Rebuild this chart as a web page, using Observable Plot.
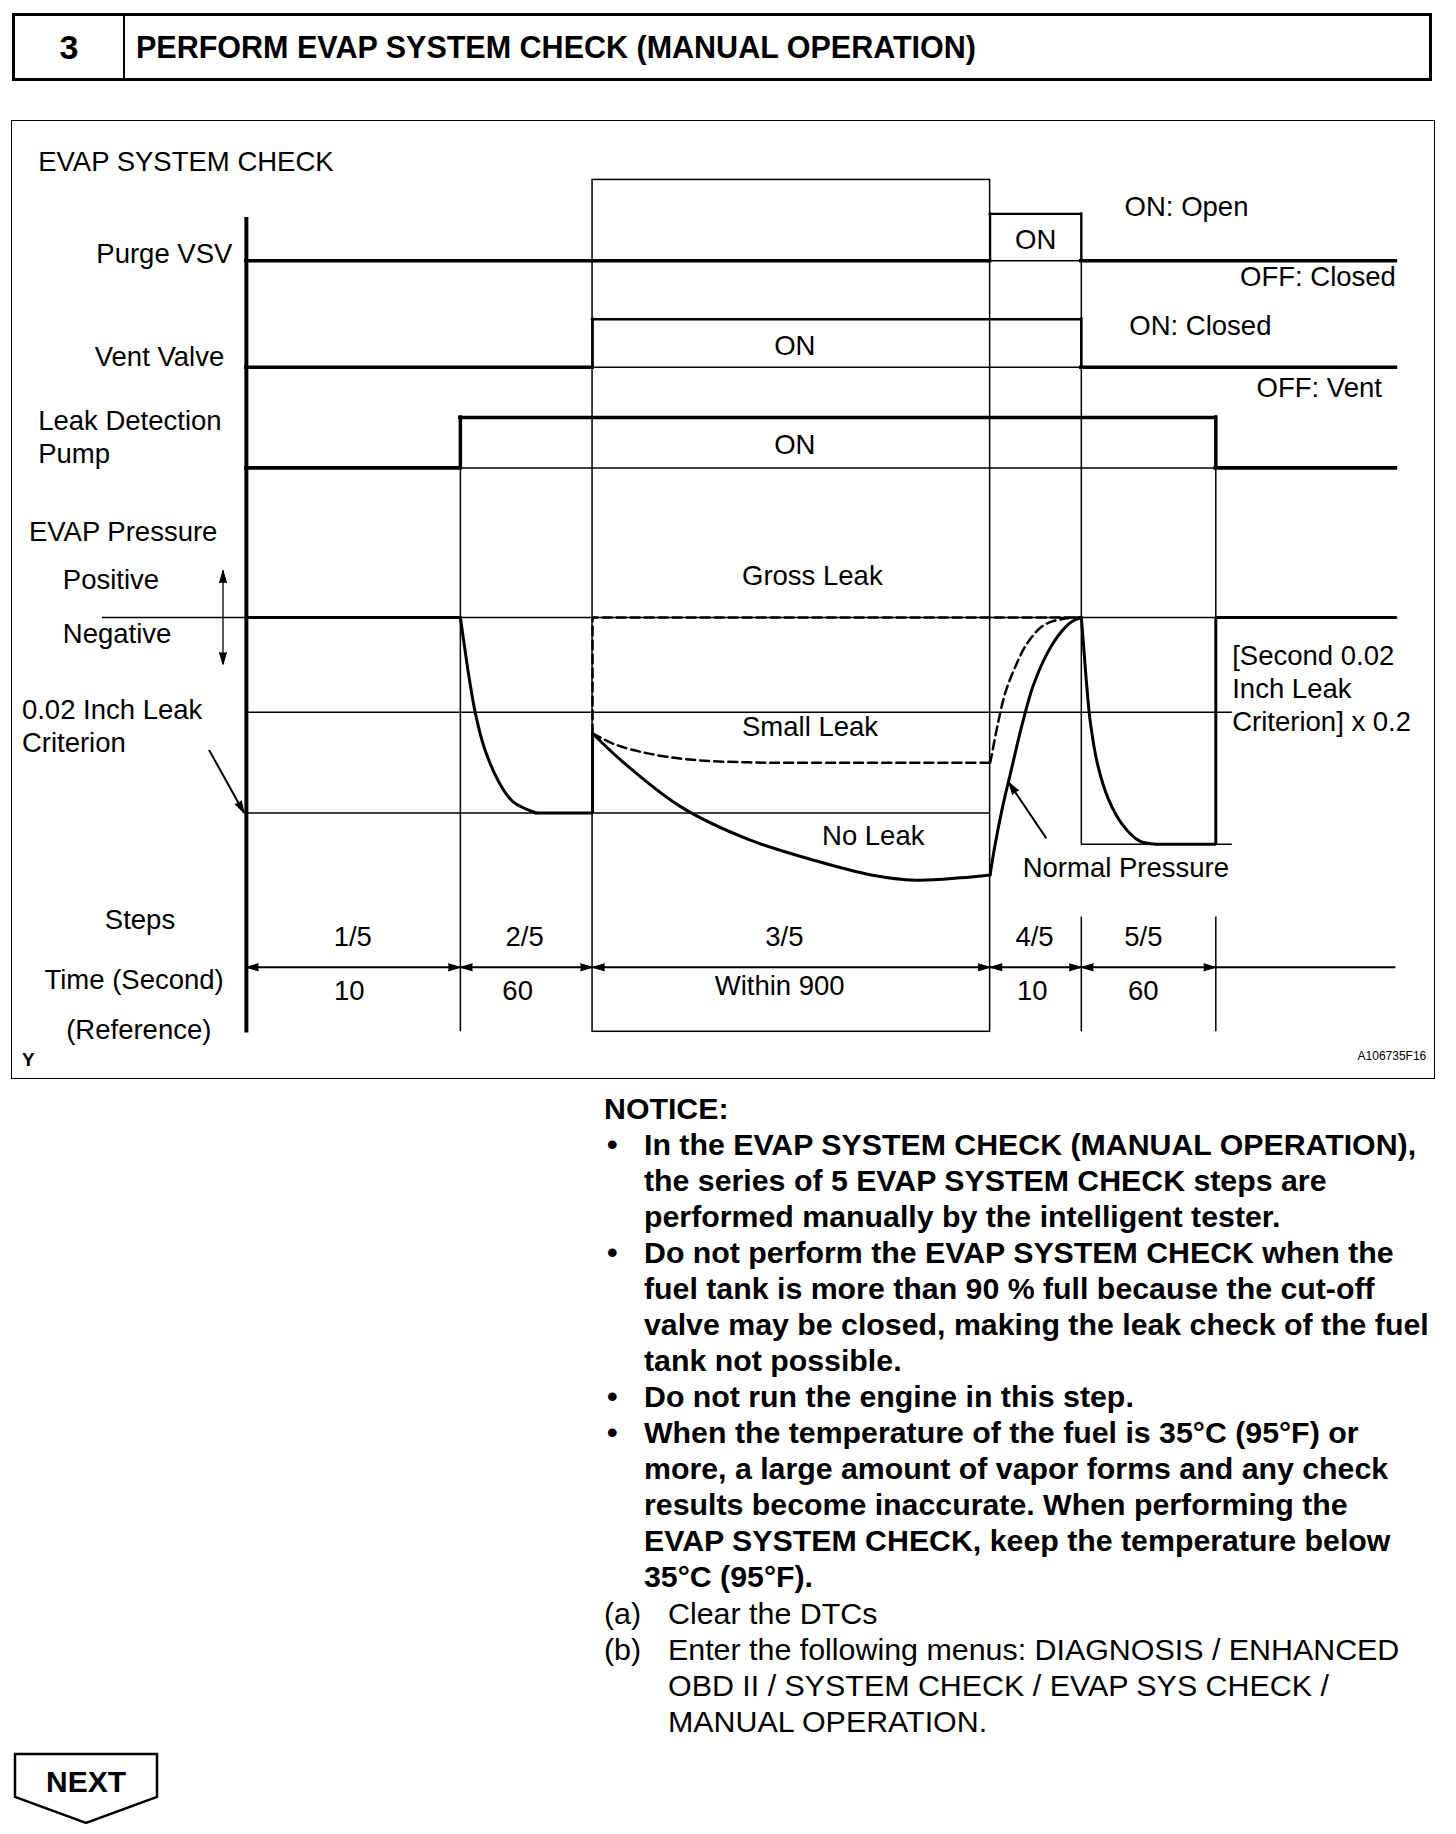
<!DOCTYPE html>
<html>
<head>
<meta charset="utf-8">
<script src="https://cdn.jsdelivr.net/npm/d3@7"></script>
<script src="https://cdn.jsdelivr.net/npm/@observablehq/plot@0.6"></script>
<style>
  html, body { margin: 0; padding: 0; background: #fff; }
  body { width: 1456px; height: 1834px; position: relative; font-family: "Liberation Sans", Arial, sans-serif; color: #000; }
  #hdr { position: absolute; left: 12px; top: 13px; width: 1414px; height: 62px; border: 3.5px solid #000; }
  #hdr .num { position: absolute; left: 0; top: 0; width: 108px; height: 62px; line-height: 62px; text-align: center; font-weight: bold; font-size: 34px; border-right: 2.5px solid #000; }
  #hdr .ttl { position: absolute; left: 121px; top: 0; height: 62px; line-height: 62px; font-weight: bold; font-size: 30.5px; white-space: nowrap; }
  #chartwrap { position: absolute; left: 11px; top: 120px; border: 1.5px solid #000; width: 1422px; height: 957px; }
  #chartwrap svg { display: block; }
  #notice { position: absolute; left: 604px; top: 1091px; font-size: 30.4px; line-height: 36px; white-space: nowrap; }
  #notice .b { position: relative; padding-left: 40px; font-weight: bold; font-size: 30.3px; }
  #notice .b .dot { position: absolute; left: 3px; top: 0; }
  #notice .h { font-weight: bold; font-size: 30.3px; }
  #notice .s { position: relative; padding-left: 64px; }
  #notice .s .lbl { position: absolute; left: 0; top: 0; }
  #next { position: absolute; left: 0; top: 1740px; }
</style>
</head>
<body>
<div id="hdr"><div class="num">3</div><div class="ttl">PERFORM EVAP SYSTEM CHECK (MANUAL OPERATION)</div></div>
<div id="chartwrap"></div>
<div id="notice">
  <div class="h">NOTICE:</div>
  <div class="b"><span class="dot">•</span>In the EVAP SYSTEM CHECK (MANUAL OPERATION),<br>the series of 5 EVAP SYSTEM CHECK steps are<br>performed manually by the intelligent tester.</div>
  <div class="b"><span class="dot">•</span>Do not perform the EVAP SYSTEM CHECK when the<br>fuel tank is more than 90 % full because the cut-off<br>valve may be closed, making the leak check of the fuel<br>tank not possible.</div>
  <div class="b"><span class="dot">•</span>Do not run the engine in this step.</div>
  <div class="b"><span class="dot">•</span>When the temperature of the fuel is 35°C (95°F) or<br>more, a large amount of vapor forms and any check<br>results become inaccurate. When performing the<br>EVAP SYSTEM CHECK, keep the temperature below<br>35°C (95°F).</div>
  <div class="s"><span class="lbl">(a)</span>Clear the DTCs</div>
  <div class="s"><span class="lbl">(b)</span>Enter the following menus: DIAGNOSIS / ENHANCED<br>OBD II / SYSTEM CHECK / EVAP SYS CHECK /<br>MANUAL OPERATION.</div>
</div>
<svg id="next" width="200" height="94" viewBox="0 0 200 94">
  <polygon points="15,14 157,14 157,57 86,83 15,57" fill="#fff" stroke="#000" stroke-width="2.5"/>
  <text x="86" y="52" text-anchor="middle" font-family="Liberation Sans, Arial, sans-serif" font-weight="bold" font-size="30">NEXT</text>
</svg>
<script>
// ---------- DATA (schematic time units along x, pressure/level units along y) ----------
const stepLabels = ["1/5", "2/5", "3/5", "4/5", "5/5"];
const stepTimes = ["10", "60", "Within 900", "10", "60"];
const stepEdges = [0, 21.4, 34.62, 74.38, 83.5, 96.95];
const axisEnd = 114.96;
const stepLabelX = [10.64, 27.83, 53.8, 78.82, 89.7];
const timeLabelX = [10.29, 27.13, 53.33, 78.59, 89.7];
const stepRowY = -1.635;
const timeRowY = -1.91;
const timeArrowY = -1.79;

// logic signals: [time, state] (state changes, step-after)
const signalNames = ["Purge VSV", "Vent Valve", "Leak Detection Pump"];
const signalOffLevel = [1.826, 1.281, 0.766];
const signalOnLevel = [2.066, 1.527, 1.024];
const signalOnWidth = [2.2, 2.6, 3.5];
const purgeVSV = [[0, 0], [74.38, 1], [83.5, 0], [114.96, 0]];
const ventValve = [[0, 0], [34.62, 1], [83.5, 0], [114.96, 0]];
const leakPump = [[0, 0], [21.4, 1], [96.95, 0], [114.96, 0]];
const signals = [purgeVSV, ventValve, leakPump];

// EVAP pressure reference levels
const zeroLevel = 0;
const secondCriterion = -0.485;
const leakCriterion = -1.0;
const step5Floor = -1.16;

// EVAP pressure traces [time, pressure]
const solidStraight = [
  [[0, 0], [21.4, 0]],
  [[28.98, -1.0], [34.62, -1.0], [34.62, -0.593]],
  [[90.99, -1.16], [96.95, -1.16], [96.95, 0], [114.96, 0]]
];
const step2Decay = [[21.4, 0], [21.76, -0.128], [22.23, -0.293], [22.92, -0.494], [23.86, -0.677], [25.25, -0.841], [26.65, -0.942], [28.98, -1.0]];
const noLeak = [[34.62, -0.593], [37.91, -0.75], [43.5, -0.97], [50.2, -1.135], [56.9, -1.244], [62.49, -1.317], [66.96, -1.344], [71.43, -1.332], [74.38, -1.317]];
const noLeakRise = [[74.38, -1.317], [74.78, -1.189], [75.62, -0.97], [76.46, -0.787], [77.57, -0.549], [78.69, -0.348], [80.09, -0.183], [81.48, -0.074], [82.6, -0.019], [83.5, 0]];
const step5Decay = [[83.5, 0], [83.73, -0.147], [84.01, -0.33], [84.39, -0.531], [85.12, -0.75], [86.24, -0.933], [87.63, -1.061], [89.3, -1.143], [90.99, -1.16]];
const grossLeak = [[34.62, -0.593], [34.62, 0], [83.5, 0]];
const smallLeak = [[34.62, -0.593], [36.79, -0.648], [40.14, -0.695], [44.6, -0.728], [50.2, -0.741], [55.78, -0.743], [74.38, -0.743]];
const smallLeakRise = [[74.38, -0.743], [74.5, -0.714], [75.06, -0.567], [75.9, -0.384], [77.02, -0.238], [78.13, -0.128], [79.81, -0.037], [82.04, -0.004], [83.5, 0]];

// annotation texts: [text, time, level]
const labelsStart = [
  ["EVAP SYSTEM CHECK", -20.82, 2.329],
  ["Leak Detection", -20.82, 1.006],
  ["Pump", -20.82, 0.838],
  ["EVAP Pressure", -21.75, 0.437],
  ["Positive", -18.36, 0.192],
  ["Negative", -18.36, -0.084],
  ["0.02 Inch Leak", -22.45, -0.473],
  ["Criterion", -22.45, -0.641],
  ["ON: Open", 87.83, 2.102],
  ["ON: Closed", 88.3, 1.491],
  ["[Second 0.02", 98.59, -0.198],
  ["Inch Leak", 98.59, -0.365],
  ["Criterion] x 0.2", 98.59, -0.533]
];
const labelsEnd = [
  ["Purge VSV", -1.4, 1.862],
  ["Vent Valve", -2.22, 1.335],
  ["OFF: Closed", 114.96, 1.743],
  ["OFF: Vent", 113.56, 1.174]
];
const labelsMiddle = [
  ["ON", 78.94, 1.934],
  ["ON", 54.85, 1.389],
  ["ON", 54.85, 0.88],
  ["Gross Leak", 56.6, 0.21],
  ["Small Leak", 56.37, -0.563],
  ["No Leak", 62.69, -1.12],
  ["Normal Pressure", 87.95, -1.281],
  ["Steps", -10.64, -1.551],
  ["Time (Second)", -11.23, -1.856],
  ["(Reference)", -10.76, -2.114]
];

// pointer arrows: [fromT, fromP, toT, toP]
const pointerArrows = [
  [-3.74, -0.677, -0.23, -1.0],
  [80.0, -1.13, 76.25, -0.844]
];
const signDoubleArrow = [-2.34, 0.24, -0.24];

// ---------- BUILD ----------
const W = 1422, H = 957;
const xDomain = [-23.39, 118.82];
const yDomain = [-2.359, 2.539];
const kx = W / (xDomain[1] - xDomain[0]);
const ky = H / (yDomain[1] - yDomain[0]);

const axisTop = 2.048, axisBottom = -2.126, lineBottom = -2.12, boxTop = 2.24;
const labelGapBottom = -1.533;

const offSegs = [], onSegs = [], underSegs = [], transitions = [];
signals.forEach((sig, k) => {
  const off = signalOffLevel[k], on = signalOnLevel[k];
  for (let i = 0; i < sig.length - 1; i++) {
    const [t0, s0] = sig[i];
    const t1 = sig[i + 1][0];
    if (s0) { onSegs.push({x1: t0, x2: t1, y: on, w: signalOnWidth[k]}); underSegs.push({x1: t0, x2: t1, y: off}); }
    else offSegs.push({x1: t0, x2: t1, y: off});
    if (i > 0 && sig[i][1] !== sig[i - 1][1]) transitions.push({x: t0, y1: off, y2: on, w: signalOnWidth[k]});
  }
});

const heads = [];
for (let i = 0; i < stepEdges.length - 1; i++) {
  heads.push({x: stepEdges[i], y: timeArrowY, r: 270});
  heads.push({x: stepEdges[i + 1], y: timeArrowY, r: 90});
}
heads.push({x: signDoubleArrow[0], y: signDoubleArrow[1], r: 0});
heads.push({x: signDoubleArrow[0], y: signDoubleArrow[2], r: 180});
pointerArrows.forEach(([x1, y1, x2, y2]) => {
  const dx = (x2 - x1) * kx, dy = -(y2 - y1) * ky;
  heads.push({x: x2, y: y2, r: Math.atan2(dx, -dy) * 180 / Math.PI});
});

const toObj = arr => arr.map(([t, p]) => ({t, p}));
const groups = (arrs) => arrs.flatMap((a, g) => a.map(([t, p]) => ({t, p, g})));

const font = "'Liberation Sans', Arial, sans-serif";
const thin = 1.5;
const fs = 27.5;

const chart = Plot.plot({
  width: W, height: H, margin: 0,
  x: {domain: xDomain, axis: null},
  y: {domain: yDomain, axis: null},
  style: {fontFamily: font, fontSize: fs + "px", background: "#fff", color: "#000"},
  marks: [
    // step box around step 3
    Plot.rect([{x1: stepEdges[2], x2: stepEdges[3], y1: lineBottom, y2: boxTop}], {x1: "x1", x2: "x2", y1: "y1", y2: "y2", fill: "none", stroke: "#000", strokeWidth: thin}),
    // step boundary verticals
    Plot.ruleX([{x: stepEdges[1], y1: signalOnLevel[2], y2: lineBottom}], {x: "x", y1: "y1", y2: "y2", strokeWidth: thin}),
    Plot.ruleX([{x: stepEdges[4], y1: signalOnLevel[0], y2: step5Floor}, {x: stepEdges[4], y1: labelGapBottom, y2: lineBottom}], {x: "x", y1: "y1", y2: "y2", strokeWidth: thin}),
    Plot.ruleX([{x: stepEdges[5], y1: signalOnLevel[2], y2: zeroLevel}, {x: stepEdges[5], y1: labelGapBottom, y2: lineBottom}], {x: "x", y1: "y1", y2: "y2", strokeWidth: thin}),
    // thin reference lines
    Plot.ruleY(underSegs, {x1: "x1", x2: "x2", y: "y", strokeWidth: thin}),
    Plot.ruleY([{y: zeroLevel, x1: -14.4, x2: axisEnd}], {x1: "x1", x2: "x2", y: "y", strokeWidth: thin}),
    Plot.ruleY([{y: secondCriterion, x1: 0, x2: 98.6}], {x1: "x1", x2: "x2", y: "y", strokeWidth: thin}),
    Plot.ruleY([{y: leakCriterion, x1: 0, x2: stepEdges[3]}], {x1: "x1", x2: "x2", y: "y", strokeWidth: thin}),
    Plot.ruleY([{y: step5Floor, x1: stepEdges[4], x2: 98.6}], {x1: "x1", x2: "x2", y: "y", strokeWidth: thin}),
    // logic signals
    Plot.ruleY(offSegs, {x1: "x1", x2: "x2", y: "y", strokeWidth: 3.6, strokeLinecap: "square"}),
    Plot.ruleY(onSegs, {x1: "x1", x2: "x2", y: "y", strokeWidth: "w", strokeLinecap: "square"}),
    Plot.ruleX(transitions, {x: "x", y1: "y1", y2: "y2", strokeWidth: "w", strokeLinecap: "square"}),
    // y axis
    Plot.ruleX([{x: 0, y1: axisTop, y2: axisBottom}], {x: "x", y1: "y1", y2: "y2", strokeWidth: 4}),
    // pressure traces
    Plot.line(groups(solidStraight), {x: "t", y: "p", z: "g", strokeWidth: 3, strokeLinejoin: "miter"}),
    Plot.line(groups([step2Decay, noLeak, noLeakRise, step5Decay]), {x: "t", y: "p", z: "g", curve: "catmull-rom", strokeWidth: 3}),
    Plot.line(toObj(grossLeak), {x: "t", y: "p", strokeWidth: 2.5, strokeDasharray: "9,5"}),
    Plot.line(groups([smallLeak, smallLeakRise]), {x: "t", y: "p", z: "g", curve: "catmull-rom", strokeWidth: 2.5, strokeDasharray: "9,5"}),
    // time dimension line
    Plot.ruleY([{y: timeArrowY, x1: 0, x2: axisEnd}], {x1: "x1", x2: "x2", y: "y", strokeWidth: 2}),
    // sign double arrow and pointer arrows
    Plot.ruleX([{x: signDoubleArrow[0], y1: signDoubleArrow[1], y2: signDoubleArrow[2]}], {x: "x", y1: "y1", y2: "y2", strokeWidth: 1.3}),
    Plot.link(pointerArrows, {x1: d => d[0], y1: d => d[1], x2: d => d[2], y2: d => d[3], strokeWidth: 2}),
    Plot.vector(heads, {x: "x", y: "y", rotate: "r", length: 12, shape: "spike", r: 3.5, anchor: "end", fill: "#000", stroke: "#000", strokeWidth: 1}),
    // texts
    Plot.text(labelsStart, {x: d => d[1], y: d => d[2], text: d => d[0], textAnchor: "start", fontSize: fs}),
    Plot.text(labelsEnd, {x: d => d[1], y: d => d[2], text: d => d[0], textAnchor: "end", fontSize: fs}),
    Plot.text(labelsMiddle, {x: d => d[1], y: d => d[2], text: d => d[0], fontSize: fs}),
    Plot.text(stepLabels, {x: (d, i) => stepLabelX[i], y: stepRowY, text: d => d, fontSize: fs}),
    Plot.text(stepTimes, {x: (d, i) => timeLabelX[i], y: (d, i) => d === "Within 900" ? -1.886 : timeRowY, text: d => d, fontSize: fs}),
    Plot.text(["Y"], {x: -22.45, y: -2.263, text: d => d, textAnchor: "start", fontSize: 19, fontWeight: "bold"}),
    Plot.text(["A106735F16"], {x: 118.0, y: -2.245, text: d => d, textAnchor: "end", fontSize: 12, letterSpacing: "-0.5px"})
  ]
});
document.getElementById("chartwrap").appendChild(chart);
</script>
</body>
</html>
